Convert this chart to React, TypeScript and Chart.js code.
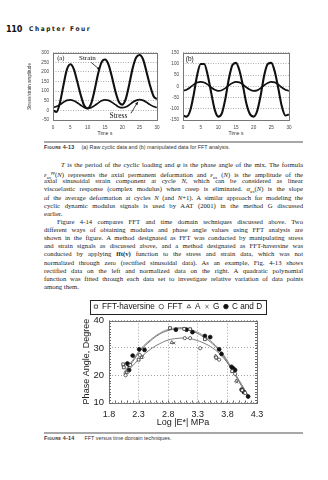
import React, { useEffect, useRef } from "react";
import { Chart, registerables } from "chart.js";
Chart.register(...registerables);

const SERIF = '"Liberation Serif", "DejaVu Serif", serif';
const SANS = '"Liberation Sans", Arial, sans-serif';

// ---------- Figure 4-13 data (time in s) ----------
const timeS = [0,1,2,3,4,5,6,7,8,9,10,11,12,13,14,15,16,17,18,19,20,21,22,23,24,25,26,27,28,29,30];
const strainRaw = [0,-8,40,130,212,240,215,150,80,25,10,35,105,190,250,265,240,175,100,45,30,60,135,220,275,288,265,200,130,75,58];
const stressRaw = [15,20,30,42,52,55,50,40,27,15,10,14,25,38,50,55,52,42,30,18,14,18,28,42,52,56,52,42,30,20,15];
const strainNorm = [-130,-135,-110,-40,50,100,100,50,-30,-105,-135,-120,-55,35,95,105,70,0,-80,-125,-135,-110,-40,50,100,105,65,-10,-90,-130,-125];
const stressNorm = [-20,-15,-5,8,17,20,17,8,-5,-15,-20,-17,-8,5,15,20,18,8,-5,-15,-20,-18,-8,5,15,20,18,8,-5,-15,-20];
const timeTicks = [0,5,10,15,20,25,30];
const rawTicks = [-50,0,50,100,150,200,250,300];
const normTicks = [-150,-100,-50,0,50,100,150];

// ---------- Figure 4-14 data ----------
const logETicks = [1.8,2.3,2.8,3.3,3.8,4.3];
const phaseTicks = [10,15,20,25,30,35,40];
const legendNames = ["FFT-haversine","FFT","A","G","C and D"];
const havX = [2.04,2.05,2.3,2.83,3.07,3.17,3.42,3.61,3.88,4.05];
const havY = [24,22.9,25.7,37.3,37,36.9,33.2,26.5,21.5,14.5];
const fftX = [2.16,2.08,2.32,3.08,3.17,3.34,3.66,3.93,4.1];
const fftY = [23.7,20,27.4,33.6,33.6,29.9,25.7,20.5,13.5];
const aX = [2.1,2.35,2.86,3.6,3.95];
const aY = [21,26.5,32,27,17.9];
const gX = [2.12,2.37,2.9,3.62,3.96];
const gY = [21.5,27,31.8,26,17.5];
const cdX = [2.11,2.14,2.14,2.2,2.31,2.4,2.93,3.11,3.21,3.42,3.51,3.66,3.7,3.87,3.9,3.93,4.04,4.08,4.15];
const cdY = [24.3,21.9,23.8,27.2,29.5,29.3,36.7,36.7,35.8,34.4,34,29.5,27.8,23.1,22.5,21.9,14.7,13.8,12.2];
const fitX = [2.05,2.2,2.35,2.5,2.65,2.8,2.95,3.1,3.25,3.4,3.55,3.7,3.85,4.0,4.15];
const fitHavY = [21,25.5,30,33,35.3,36.8,37.4,37.3,36.2,34.5,32,28.5,23.5,18,12.5];
const fitCdY = [20.5,25,29.5,32.6,35,36.4,37,36.9,35.8,34,31.5,28,23,17.5,12];
const fitFftY = [20,23.5,26.8,29.5,31.5,32.9,33.5,33.6,33,31.8,30,27.2,23,18,12.5];

const pts = (xs: number[], ys: number[]) => xs.map((x, i) => ({ x, y: ys[i] }));

const boxPlugin = (color: string) => ({
  id: "box",
  afterDraw(chart: any) {
    const { ctx, chartArea: a } = chart;
    ctx.save();
    ctx.strokeStyle = color;
    ctx.lineWidth = 1;
    ctx.strokeRect(Math.round(a.left) + 0.5, Math.round(a.top) + 0.5, Math.round(a.right - a.left), Math.round(a.bottom - a.top));
    ctx.restore();
  },
});

type Note = { text: string; x: number; y: number; font: string; align?: CanvasTextAlign; arrow?: [number, number, number, number] };
const notesPlugin = (notes: Note[]) => ({
  id: "notes",
  afterDatasetsDraw(chart: any) {
    const { ctx } = chart;
    const xs = chart.scales.x, ys = chart.scales.y;
    notes.forEach((n) => {
      ctx.save();
      ctx.font = n.font;
      ctx.fillStyle = "#111";
      ctx.textAlign = n.align || "left";
      ctx.textBaseline = "middle";
      ctx.fillText(n.text, xs.getPixelForValue(n.x), ys.getPixelForValue(n.y));
      if (n.arrow) {
        const x1 = xs.getPixelForValue(n.arrow[0]), y1 = ys.getPixelForValue(n.arrow[1]);
        const x2 = xs.getPixelForValue(n.arrow[2]), y2 = ys.getPixelForValue(n.arrow[3]);
        ctx.strokeStyle = "#111";
        ctx.lineWidth = 0.8;
        ctx.beginPath(); ctx.moveTo(x1, y1); ctx.lineTo(x2, y2); ctx.stroke();
        const ang = Math.atan2(y2 - y1, x2 - x1);
        ctx.beginPath();
        ctx.moveTo(x2, y2);
        ctx.lineTo(x2 - 3.5 * Math.cos(ang - 0.4), y2 - 3.5 * Math.sin(ang - 0.4));
        ctx.lineTo(x2 - 3.5 * Math.cos(ang + 0.4), y2 - 3.5 * Math.sin(ang + 0.4));
        ctx.closePath(); ctx.fill();
      }
      ctx.restore();
    });
  },
});

const minorTicksPlugin = {
  id: "minor",
  afterDraw(chart: any) {
    const { ctx, chartArea: a } = chart;
    const xs = chart.scales.x, ys = chart.scales.y;
    ctx.save();
    ctx.strokeStyle = "#666";
    ctx.lineWidth = 1;
    for (let i = 0; i <= 25; i++) {
      const px = Math.round(xs.getPixelForValue(1.8 + i * 0.1)) + 0.5;
      ctx.beginPath(); ctx.moveTo(px, a.bottom); ctx.lineTo(px, a.bottom - 2); ctx.stroke();
    }
    for (let v = 10; v <= 40; v++) {
      const py = Math.round(ys.getPixelForValue(v)) + 0.5;
      ctx.beginPath(); ctx.moveTo(a.left, py); ctx.lineTo(a.left + 2, py); ctx.stroke();
      ctx.beginPath(); ctx.moveTo(a.right, py); ctx.lineTo(a.right - 2, py); ctx.stroke();
    }
    ctx.restore();
  },
};

const legendBoxPlugin = {
  id: "legendBox",
  afterDraw(chart: any) {
    const hb = chart.legend && chart.legend.legendHitBoxes;
    if (!hb || !hb.length) return;
    const { ctx } = chart;
    let x0 = Infinity, x1 = -Infinity, y0 = Infinity, y1 = -Infinity;
    hb.forEach((h: any) => {
      x0 = Math.min(x0, h.left); x1 = Math.max(x1, h.left + h.width);
      y0 = Math.min(y0, h.top); y1 = Math.max(y1, h.top + h.height);
    });
    x0 -= 4; x1 += 4; y0 -= 3; y1 += 3;
    ctx.save();
    ctx.strokeStyle = "#222";
    ctx.lineWidth = 1;
    ctx.strokeRect(Math.round(x0) + 0.5, Math.round(y0) + 0.5, Math.round(x1 - x0), Math.round(y1 - y0));
    ctx.restore();
  },
};

const fixTicks = (vals: number[]) => (s: any) => { s.ticks = vals.map((v) => ({ value: v })); };

function panelConfig(opts: {
  a: number[]; b: number[]; yTicks: number[]; yMin: number; yMax: number;
  yWidth: number; yTitle?: string; notes: Note[];
}) {
  const tickFont = { family: SANS, size: 4.6 };
  return {
    type: "line",
    data: {
      datasets: [
        { data: pts(timeS, opts.a), borderColor: "#111", borderWidth: 2.1, pointRadius: 0, cubicInterpolationMode: "monotone" },
        { data: pts(timeS, opts.b), borderColor: "#111", borderWidth: 1.7, pointRadius: 0, cubicInterpolationMode: "monotone" },
      ],
    },
    options: {
      animation: false,
      responsive: false,
      events: [],
      layout: { padding: { top: 4, right: 2, left: 0, bottom: 0 } },
      plugins: { legend: { display: false }, tooltip: { enabled: false } },
      scales: {
        x: {
          type: "linear", min: 0, max: 30,
          afterBuildTicks: fixTicks(timeTicks),
          ticks: { font: tickFont, color: "#444", padding: 4.5, maxRotation: 0 },
          grid: { display: false, drawTicks: false },
          border: { display: false },
          title: { display: true, text: "Time s", font: { family: SANS, size: 5 }, color: "#333", padding: 0 },
          afterFit: (s: any) => { s.height = 17; },
        },
        y: {
          type: "linear", min: opts.yMin, max: opts.yMax,
          afterBuildTicks: fixTicks(opts.yTicks),
          ticks: { font: tickFont, color: "#444", padding: 4 },
          grid: { color: "#8a8a8a", lineWidth: 0.7, drawTicks: false },
          border: { display: false, dash: [1, 1.5] },
          title: { display: !!opts.yTitle, text: opts.yTitle || "", font: { family: SANS, size: 4.6 }, color: "#333", padding: { top: 5, bottom: 0 } },
          afterFit: (s: any) => { s.width = opts.yWidth; },
        },
      },
    },
    plugins: [boxPlugin("#777"), notesPlugin(opts.notes)],
  };
}

function bottomConfig() {
  const mk = (label: string, xs: number[], ys: number[], style: string, r: number, bg: string, bc: string) => ({
    label, data: pts(xs, ys), pointStyle: style, pointRadius: r, backgroundColor: bg, borderColor: bc, pointBorderWidth: 0.8, showLine: false,
  });
  const fit = (ys: number[], c: string) => ({
    label: "", data: pts(fitX, ys), showLine: true, pointRadius: 0, borderColor: c, borderWidth: 1, tension: 0.4, fill: false,
  });
  return {
    type: "scatter",
    data: {
      datasets: [
        mk(legendNames[0], havX, havY, "rect", 2, "#fff", "#333"),
        mk(legendNames[1], fftX, fftY, "circle", 1.6, "#fff", "#444"),
        mk(legendNames[2], aX, aY, "triangle", 1.9, "#fff", "#444"),
        mk(legendNames[3], gX, gY, "crossRot", 1.9, "#444", "#444"),
        mk(legendNames[4], cdX, cdY, "circle", 1.9, "#111", "#111"),
        fit(fitHavY, "#8c8c8c"),
        fit(fitCdY, "#6e6e6e"),
        fit(fitFftY, "#7a7a7a"),
      ],
    },
    options: {
      animation: false,
      responsive: false,
      events: [],
      layout: { padding: 0 },
      plugins: {
        tooltip: { enabled: false },
        legend: {
          display: true, position: "top",
          labels: {
            filter: (it: any) => it.text !== "",
            usePointStyle: true, boxWidth: 4, boxHeight: 3.2, padding: 4.5,
            color: "#111", font: { family: SANS, size: 8.2 },
          },
        },
      },
      scales: {
        x: {
          type: "linear", min: 1.8, max: 4.3,
          afterBuildTicks: fixTicks(logETicks),
          ticks: { font: { family: SANS, size: 9 }, color: "#222", padding: 6.5, maxRotation: 0, callback: (v: number) => v.toFixed(1) },
          grid: { color: "#888", lineWidth: 0.8, drawTicks: false },
          border: { display: false, dash: [1, 2] },
          title: { display: true, text: "Log |E*| MPa", font: { family: SANS, size: 9 }, color: "#222", padding: 0 },
          afterFit: (s: any) => { s.height = 25.5; },
        },
        y: {
          type: "linear", min: 10, max: 40,
          afterBuildTicks: fixTicks(phaseTicks),
          ticks: { font: { family: SANS, size: 9.5 }, color: "#222", padding: 5 },
          grid: { color: "#888", lineWidth: 0.8, drawTicks: false },
          border: { display: false, dash: [1, 2] },
          title: { display: true, text: "Phase Angle, Degree", font: { family: SANS, size: 9 }, color: "#222", padding: { top: 23, bottom: 0 } },
          afterFit: (s: any) => { s.width = 51; },
        },
        yRight: {
          type: "linear", position: "right", min: 10, max: 40,
          ticks: { display: false },
          grid: { display: false, drawTicks: false },
          border: { display: false },
          afterFit: (s: any) => { s.width = 41; },
        },
      },
    },
    plugins: [boxPlugin("#777"), minorTicksPlugin, legendBoxPlugin],
  };
}

function ChartBox({ left, top, width, height, make }: { left: number; top: number; width: number; height: number; make: () => any }) {
  const ref = useRef<HTMLCanvasElement>(null);
  useEffect(() => {
    const chart = new Chart(ref.current as HTMLCanvasElement, make());
    return () => chart.destroy();
  }, []);
  return (
    <canvas ref={ref} width={width} height={height}
      style={{ position: "absolute", left, top, width, height, display: "block" }} />
  );
}

const Sub = ({ c }: { c: string }) => <span style={{ fontSize: "70%", verticalAlign: "-2px" }}>{c}</span>;
const Sup = ({ c }: { c: string }) => <span style={{ fontSize: "60%", verticalAlign: "3px" }}>{c}</span>;

const bodyLines: { node: React.ReactNode; indent?: number; last?: boolean }[] = [
  { node: <><i>T</i> is the period of the cyclic loading and <i>φ</i> is the phase angle of the mix. The formula</>, indent: 17 },
  { node: <><i>ε</i><Sub c="ax" /><Sup c="pp" />(<i>N</i>) represents the axial permanent deformation and <i>ε</i><Sub c="ax" /> (<i>N</i>) is the amplitude of the</> },
  { node: <>axial sinusoidal strain component at cycle <i>N</i>, which can be considered as linear</> },
  { node: <>viscoelastic response (complex modulus) when creep is eliminated. <i>α</i><Sub c="ax" />(<i>N</i>) is the slope</> },
  { node: <>of the average deformation at cycles <i>N</i> (and <i>N</i>+1). A similar approach for modeling the</> },
  { node: <>cyclic dynamic modulus signals is used by AAT (2001) in the method G discussed</> },
  { node: <>earlier.</>, last: true },
  { node: <>Figure 4-14 compares FFT and time domain techniques discussed above. Two</>, indent: 13 },
  { node: <>different ways of obtaining modulus and phase angle values using FFT analysis are</> },
  { node: <>shown in the figure. A method designated as FFT was conducted by manipulating stress</> },
  { node: <>and strain signals as discussed above, and a method designated as FFT-haversine was</> },
  { node: <>conducted by applying <b>fft(v)</b> function to the stress and strain data, which was not</> },
  { node: <>normalized through zero (rectified sinusoidal data). As an example, Fig. 4-13 shows</> },
  { node: <>rectified data on the left and normalized data on the right. A quadratic polynomial</> },
  { node: <>function was fitted through each data set to investigate relative variation of data points</> },
  { node: <>among them.</>, last: true },
];

export default function App() {
  useEffect(() => {
    document.body.style.margin = "0";
  }, []);
  const notesA: Note[] = [
    { text: "(a)", x: 1.2, y: 273, font: `6.5px ${SERIF}` },
    { text: "Strain", x: 7.5, y: 272, font: `7px ${SERIF}`, arrow: [11, 250, 13.6, 210] },
    { text: "Stress", x: 16.3, y: -27, font: `7.5px ${SERIF}`, arrow: [22.5, -15, 24.5, 45] },
  ];
  const notesB: Note[] = [{ text: "(b)", x: 0.8, y: 123, font: `6.5px ${SANS}` }];
  return (
    <div style={{ position: "absolute", left: 0, top: 0, width: 328, height: 480, background: "#fff", overflow: "hidden", color: "#222" }}>
      <div style={{ position: "absolute", left: 6, top: 24, fontFamily: '"DejaVu Sans Condensed", "Liberation Sans Narrow", sans-serif', fontWeight: 700, fontSize: 9, lineHeight: "10px", color: "#111", letterSpacing: -0.3 }}>110</div>
      <div style={{ position: "absolute", left: 29, top: 25, fontFamily: '"Liberation Sans Narrow", "DejaVu Sans Condensed", sans-serif', fontWeight: 700, fontSize: 6.5, lineHeight: "8px", color: "#222", letterSpacing: 1.6 }}>Chapter Four</div>

      <ChartBox left={22} top={46} width={142} height={91}
        make={() => panelConfig({ a: strainRaw, b: stressRaw, yTicks: rawTicks, yMin: -50, yMax: 300, yWidth: 31, yTitle: "Stress/strain amplitude", notes: notesA })} />
      <ChartBox left={160} top={46} width={136} height={91}
        make={() => panelConfig({ a: strainNorm, b: stressNorm, yTicks: normTicks, yMin: -150, yMax: 150, yWidth: 23, notes: notesB })} />

      <div style={{ position: "absolute", left: 44, top: 140.5, width: 259, height: 2, background: "#a8a8a8" }} />
      <div style={{ position: "absolute", left: 44, top: 144, fontFamily: SANS, fontSize: 5.4, lineHeight: "6px", color: "#333", whiteSpace: "nowrap" }}>
        <b style={{ fontVariant: "small-caps", letterSpacing: 0.2 }}>Figure 4-13</b>
        <span style={{ marginLeft: 7 }}>(a) Raw cyclic data and (b) manipulated data for FFT analysis.</span>
      </div>

      {bodyLines.map((l, i) => (
        <div key={i} style={{
          position: "absolute", left: 44 + (l.indent || 0), top: 161 + i * 8.13, width: 259 - (l.indent || 0), height: 8,
          fontFamily: SERIF, fontSize: 6.7, lineHeight: "8px", color: "#222", whiteSpace: "nowrap",
          textAlign: l.last ? "left" : "justify", textAlignLast: l.last ? "left" : "justify",
        } as React.CSSProperties}>{l.node}</div>
      ))}

      <ChartBox left={58} top={298} width={240} height={130} make={bottomConfig} />

      <div style={{ position: "absolute", left: 44, top: 431.5, width: 259, height: 2, background: "#a8a8a8" }} />
      <div style={{ position: "absolute", left: 44, top: 435, fontFamily: SANS, fontSize: 5.4, lineHeight: "6px", color: "#333", whiteSpace: "nowrap" }}>
        <b style={{ fontVariant: "small-caps", letterSpacing: 0.2 }}>Figure 4-14</b>
        <span style={{ marginLeft: 10 }}>FFT versus time domain techniques.</span>
      </div>
    </div>
  );
}
